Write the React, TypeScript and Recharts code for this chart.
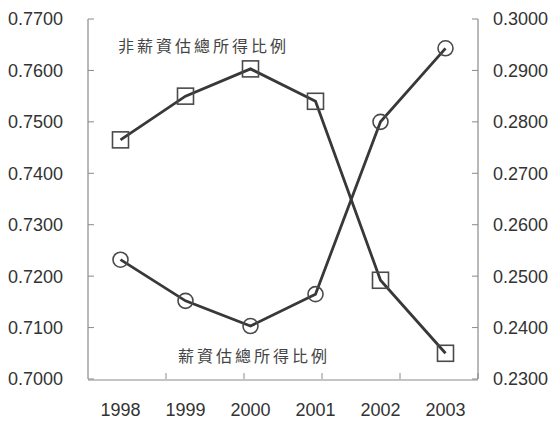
import React from "react";
import { LineChart, Line, XAxis, YAxis } from "recharts";

const years = ["1998", "1999", "2000", "2001", "2002", "2003"];
// 非薪資 share (left axis, squares)
const nonWageShare = [0.7465, 0.755, 0.7603, 0.754, 0.7192, 0.705];
// 薪資 share (right axis, circles)
const wageShare = [0.2532, 0.2452, 0.2403, 0.2465, 0.28, 0.2943];
const leftTicks = [0.7, 0.71, 0.72, 0.73, 0.74, 0.75, 0.76, 0.77];
const rightTicks = [0.23, 0.24, 0.25, 0.26, 0.27, 0.28, 0.29, 0.3];
const boundaryTicks = [1, 2, 3, 4, 5];

const data = years.map((year, i) => ({
  year,
  nonWage: nonWageShare[i],
  wage: wageShare[i],
}));

const axisColor = "#8a8a8a";
const lineColor = "#383838";
const tickStyle = { fontSize: 18, fill: "#333", fontFamily: "'Liberation Sans', Arial, sans-serif" };

function SquareDot(props: any) {
  const { cx, cy } = props;
  if (cx == null || cy == null) return null;
  return (
    <rect x={cx - 8} y={cy - 8} width={16} height={16} fill="none" stroke="#4a4a4a" strokeWidth={1.6} />
  );
}

function CircleDot(props: any) {
  const { cx, cy } = props;
  if (cx == null || cy == null) return null;
  return <circle cx={cx} cy={cy} r={7.5} fill="none" stroke="#4a4a4a" strokeWidth={1.6} />;
}

const labelStyle: React.CSSProperties = {
  position: "absolute",
  fontFamily: "'Noto Sans CJK TC', sans-serif",
  fontSize: 16,
  letterSpacing: 3,
  color: "#444",
  whiteSpace: "nowrap",
  lineHeight: "20px",
};

export default function App() {
  return (
    <div style={{ position: "absolute", left: 0, top: 0, width: 556, height: 421, background: "#fff" }}>
      <LineChart width={556} height={421} data={data} margin={{ top: 19, right: 0, bottom: 0, left: 0 }}>
        {/* boundary ticks between the year bands, pointing up into the plot */}
        <XAxis
          xAxisId="bounds"
          type="number"
          domain={[0, 6]}
          ticks={boundaryTicks}
          height={1}
          axisLine={false}
          tickFormatter={() => ""}
          tickSize={-6}
          tickLine={{ stroke: axisColor, strokeWidth: 1 }}
        />
        {/* year labels, one per band */}
        <XAxis
          dataKey="year"
          xAxisId="cat"
          scale="band"
          height={41}
          tickLine={false}
          tickSize={0}
          tickMargin={23}
          axisLine={{ stroke: axisColor, strokeWidth: 1.2 }}
          tick={tickStyle}
        />
        <YAxis
          yAxisId="left"
          orientation="left"
          width={88}
          domain={[0.7, 0.77]}
          ticks={leftTicks}
          tickFormatter={(v: number) => v.toFixed(4)}
          tickSize={-6}
          tickMargin={31}
          axisLine={{ stroke: axisColor, strokeWidth: 1.2 }}
          tickLine={{ stroke: axisColor, strokeWidth: 1 }}
          tick={tickStyle}
        />
        <YAxis
          yAxisId="right"
          orientation="right"
          width={78}
          domain={[0.23, 0.3]}
          ticks={rightTicks}
          tickFormatter={(v: number) => v.toFixed(4)}
          tickSize={-6}
          tickMargin={21}
          axisLine={{ stroke: axisColor, strokeWidth: 1.2 }}
          tickLine={{ stroke: axisColor, strokeWidth: 1 }}
          tick={tickStyle}
        />
        <Line
          xAxisId="cat"
          yAxisId="left"
          dataKey="nonWage"
          type="linear"
          stroke={lineColor}
          strokeWidth={2.8}
          dot={<SquareDot />}
          activeDot={false}
          isAnimationActive={false}
        />
        <Line
          xAxisId="cat"
          yAxisId="right"
          dataKey="wage"
          type="linear"
          stroke={lineColor}
          strokeWidth={2.8}
          dot={<CircleDot />}
          activeDot={false}
          isAnimationActive={false}
        />
      </LineChart>
      <div style={{ ...labelStyle, left: 118, top: 35 }}>非薪資估總所得比例</div>
      <div style={{ ...labelStyle, left: 178, top: 345 }}>薪資估總所得比例</div>
    </div>
  );
}
